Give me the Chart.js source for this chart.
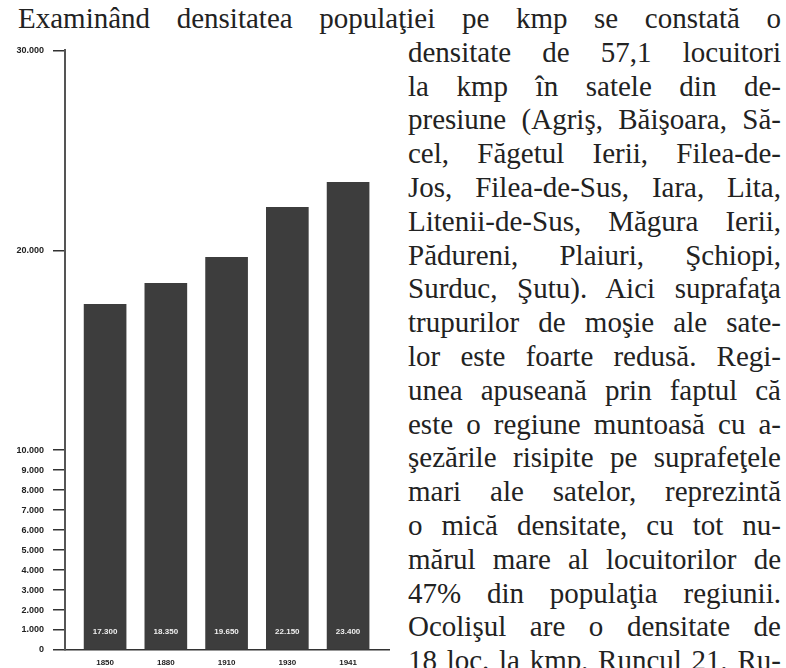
<!DOCTYPE html>
<html>
<head>
<meta charset="utf-8">
<script src="https://cdn.jsdelivr.net/npm/chart.js@4.4.0/dist/chart.umd.min.js"></script>
<style>
  body { margin: 0; width: 786px; height: 668px; overflow: hidden; background: #fff; position: relative;
         font-family: "Liberation Serif", "DejaVu Serif", serif; color: #222; }
  #chartBox { position: absolute; left: 0; top: 36px; width: 390px; height: 632px; }
  .line { position: absolute; height: 34px; line-height: 34px; font-size: 29px;
          text-align: justify; text-align-last: justify; overflow: hidden; }
</style>
</head>
<body>
<div id="chartBox"><canvas id="chart"></canvas></div>
<div id="text"></div>
<script>
// census years and population of the region
const years = ['1850', '1880', '1910', '1930', '1941'];
const population = [17300, 18350, 19650, 22150, 23400];
const yTicks = [0, 1000, 2000, 3000, 4000, 5000, 6000, 7000, 8000, 9000, 10000, 20000, 30000];

const topLine = 'Examinând densitatea populaţiei pe kmp  se constată o';
const columnLines = [
  'densitate de 57,1 locuitori',
  'la kmp  în satele din de-',
  'presiune (Agriş, Băişoara, Să-',
  'cel, Făgetul Ierii, Filea-de-',
  'Jos, Filea-de-Sus, Iara, Lita,',
  'Litenii-de-Sus, Măgura Ierii,',
  'Pădureni, Plaiuri, Şchiopi,',
  'Surduc, Şutu). Aici suprafaţa',
  'trupurilor de moşie ale sate-',
  'lor este foarte redusă. Regi-',
  'unea apuseană prin faptul că',
  'este o regiune muntoasă cu a-',
  'şezările risipite pe suprafeţele',
  'mari ale satelor, reprezintă',
  'o mică densitate, cu tot nu-',
  'mărul mare al locuitorilor de',
  '47% din populaţia regiunii.',
  'Ocolişul are o densitate de',
  '18 loc. la kmp, Runcul 21, Ru-'
];

// page text
const textBox = document.getElementById('text');
function addLine(str, left, width, top) {
  const d = document.createElement('div');
  d.className = 'line';
  d.style.left = left + 'px';
  d.style.width = width + 'px';
  d.style.top = top + 'px';
  d.textContent = str;
  textBox.appendChild(d);
}
addLine(topLine, 18, 763, 1);
columnLines.forEach((s, i) => addLine(s, 408, 373, 1 + 33.8 * (i + 1)));

function fmt(v) {
  return String(v).replace(/\B(?=(\d{3})+(?!\d))/g, '.');
}

// white numbers near the foot of each bar
const barLabels = {
  id: 'barLabels',
  afterDatasetsDraw(chart) {
    const ctx = chart.ctx;
    const y = chart.scales.y.getPixelForValue(900);
    ctx.save();
    ctx.fillStyle = '#eeeeee';
    ctx.font = 'bold 8px "Liberation Sans"';
    ctx.textAlign = 'center';
    ctx.textBaseline = 'middle';
    chart.getDatasetMeta(0).data.forEach((bar, i) => {
      ctx.fillText(fmt(population[i]), bar.x, y);
    });
    ctx.restore();
  }
};

new Chart(document.getElementById('chart'), {
  type: 'bar',
  data: {
    datasets: [{
      data: population.map((v, i) => ({ x: i + 1, y: v })),
      backgroundColor: '#3d3d3d',
      barThickness: 42
    }]
  },
  options: {
    responsive: true,
    maintainAspectRatio: false,
    animation: false,
    layout: { padding: { top: 9, right: 0, bottom: 0, left: 0 } },
    plugins: { legend: { display: false }, tooltip: { enabled: false } },
    scales: {
      x: {
        type: 'linear',
        offset: false,
        min: 0.34,
        max: 5.69,
        afterBuildTicks: s => { s.ticks = years.map((y, i) => ({ value: i + 1 })); },
        afterFit: s => { s.height = 18; },
        grid: { display: false },
        border: { display: true, color: '#333', width: 1.5 },
        ticks: {
          padding: 0,
          color: '#222',
          font: { family: 'Liberation Sans', size: 8, weight: 'bold' },
          callback: v => years[v - 1]
        }
      },
      y: {
        min: 0,
        max: 30000,
        afterBuildTicks: s => { s.ticks = yTicks.map(v => ({ value: v })); },
        afterFit: s => { s.width = 65; },
        grid: { drawOnChartArea: false, tickLength: 12, color: '#333', lineWidth: 1.5 },
        border: { display: true, color: '#555', width: 2 },
        ticks: {
          padding: 9,
          color: '#222',
          font: { family: 'Liberation Sans', size: 9, weight: 'bold' },
          callback: v => fmt(v)
        }
      }
    }
  },
  plugins: [barLabels]
});
</script>
</body>
</html>
